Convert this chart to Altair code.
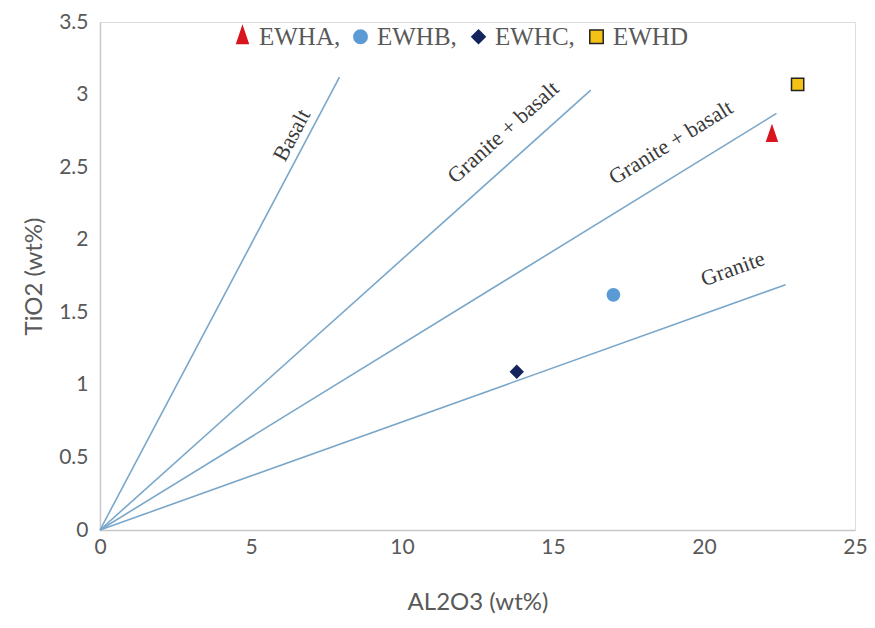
import math
import altair as alt
import pandas as pd

# Reference lines (from origin)
line_names = ["Basalt", "Granite + basalt (1)", "Granite + basalt (2)", "Granite"]
line_end_x = [7.93, 16.25, 22.4, 22.7]
line_end_y = [3.12, 3.03, 2.87, 1.69]

# Line labels
label_text = ["Basalt", "Granite + basalt", "Granite + basalt", "Granite"]
label_x = [6.35, 13.35, 18.9, 20.95]
label_y = [2.72, 2.74, 2.67, 1.8]

# Samples
samples = ["EWHA", "EWHB", "EWHC", "EWHD"]
al2o3 = [22.25, 17.0, 13.8, 23.1]
tio2 = [2.72, 1.62, 1.09, 3.07]

W, H = 755, 508
XMAX, YMAX = 25, 3.5

rows = []
for n, ex, ey in zip(line_names, line_end_x, line_end_y):
    rows.append({"line": n, "x": 0.0, "y": 0.0, "o": 0})
    rows.append({"line": n, "x": ex, "y": ey, "o": 1})
lines_df = pd.DataFrame(rows)

pts_df = pd.DataFrame({"sample": samples, "AL2O3": al2o3, "TiO2": tio2})

xs = alt.Scale(domain=[0, XMAX], nice=False, zero=True)
ys = alt.Scale(domain=[0, YMAX], nice=False, zero=True)

xaxis = alt.Axis(values=[0, 5, 10, 15, 20, 25], title="AL2O3 (wt%)", grid=False, ticks=False,
                 labelFlush=False, format="~g",
                 domainColor="#c8c8c8", domainWidth=1.5, labelFont="Lato", labelFontSize=21,
                 labelColor="#595959", labelPadding=6, titleFont="Lato", titleFontSize=24,
                 titleFontWeight="normal", titleColor="#595959", titlePadding=33)
yaxis = alt.Axis(values=[0, 0.5, 1, 1.5, 2, 2.5, 3, 3.5], title="TiO2 (wt%)", grid=False, ticks=False,
                 format="~g",
                 domainColor="#c8c8c8", domainWidth=1.5, labelFont="Lato", labelFontSize=21,
                 labelColor="#595959", labelPadding=12, titleFont="Lato", titleFontSize=24,
                 titleFontWeight="normal", titleColor="#595959", titlePadding=12)

lines = alt.Chart(lines_df).mark_line(color="#7aa7c9", strokeWidth=1.6).encode(
    x=alt.X("x:Q", scale=xs, axis=xaxis),
    y=alt.Y("y:Q", scale=ys, axis=yaxis),
    detail="line:N",
    order="o:Q",
)

layers = [lines]
for t, lx, ly, ex, ey in zip(label_text, label_x, label_y, line_end_x, line_end_y):
    ang = math.degrees(math.atan2(ey / YMAX * H, ex / XMAX * W))
    lab = alt.Chart(pd.DataFrame({"t": [t], "x": [lx], "y": [ly]})).mark_text(
        font="Liberation Serif", fontSize=22, color="#3a3a3a", angle=round(360 - ang, 1),
        align="center", baseline="middle"
    ).encode(x=alt.X("x:Q", scale=xs), y=alt.Y("y:Q", scale=ys), text="t:N")
    layers.append(lab)

tri = "M0,-1.5L0.85,1L-0.85,1Z"
legend = alt.Legend(title=None, orient="none", legendX=130, legendY=2, direction="horizontal",
                    labelFont="Liberation Serif", labelFontSize=25, labelColor="#595959",
                    labelExpr="datum.label == 'EWHD' ? datum.label : datum.label + ','",
                    symbolSize=180, symbolStrokeWidth=1.5, labelOffset=4, columnPadding=7,
                    gridAlign="all")
points = alt.Chart(pts_df).mark_point(filled=True, opacity=1, strokeWidth=1.5, size=150).encode(
    x=alt.X("AL2O3:Q", scale=xs),
    y=alt.Y("TiO2:Q", scale=ys),
    color=alt.Color("sample:N", scale=alt.Scale(domain=samples,
                    range=["#d9151e", "#5b9bd5", "#14255e", "#f3c214"]), legend=legend),
    stroke=alt.Stroke("sample:N", scale=alt.Scale(domain=samples,
                    range=["#d9151e", "#5b9bd5", "#14255e", "#222222"]), legend=legend),
    shape=alt.Shape("sample:N", scale=alt.Scale(domain=samples,
                    range=[tri, "circle", "diamond", "square"]), legend=legend),
)
layers.append(points)

chart = alt.layer(*layers).properties(
    width=W, height=H,
    autosize=alt.AutoSizeParams(type="none"),
    padding={"left": 92, "top": 14, "right": 12, "bottom": 90},
).configure_view(stroke=None).configure(background="white")

chart.save("out.html", embed_options={"renderer": "svg", "actions": False})
